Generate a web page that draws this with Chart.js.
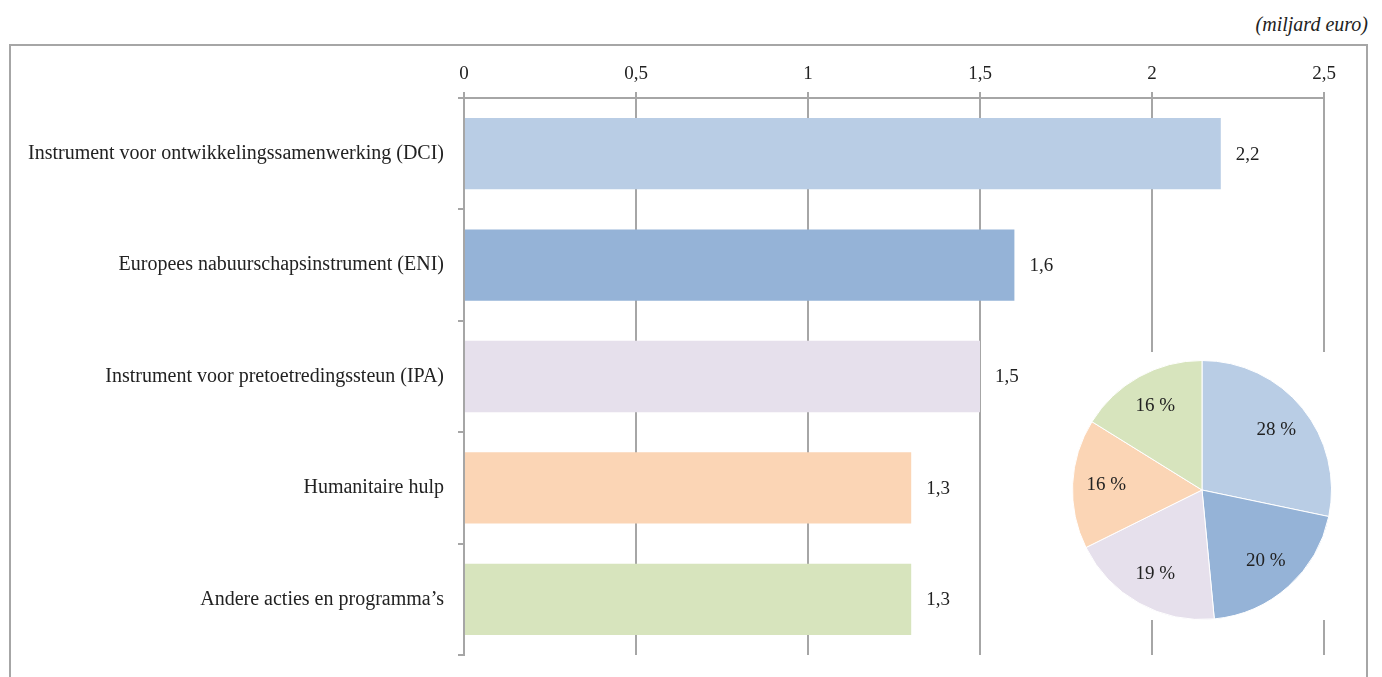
<!DOCTYPE html>
<html>
<head>
    <title>Externe financieringsinstrumenten</title>
    <script src="https://cdn.jsdelivr.net/npm/chart.js"></script>
    <style>
        body {
            margin: 0;
            background: #fff;
            font-family: "Liberation Serif", serif;
        }
        #wrap {
            position: relative;
            width: 1382px;
            height: 677px;
            overflow: hidden;
        }
        #unit {
            position: absolute;
            right: 14px;
            top: 13px;
            font-style: italic;
            font-size: 20px;
            color: #222;
        }
        #frame {
            position: absolute;
            left: 9px;
            top: 44px;
            width: 1355px;
            height: 700px;
            border: 2px solid #a6a6a6;
        }
        #barBox {
            position: absolute;
            left: 0;
            top: 0;
            width: 1382px;
            height: 677px;
        }
        #pieBox {
            position: absolute;
            left: 1066px;
            top: 352px;
            width: 274px;
            height: 268px;
            background: #fff;
        }
        #pieBox canvas {
            position: absolute;
            left: 6px;
            top: 8px;
        }
    </style>
</head>
<body>
    <div id="wrap">
        <div id="unit">(miljard euro)</div>
        <div id="frame"></div>
        <div id="barBox"><canvas id="barChart" width="1382" height="677"></canvas></div>
        <div id="pieBox"><canvas id="pieChart" width="260" height="260"></canvas></div>
    </div>

    <script>
        const categories = [
            'Instrument voor ontwikkelingssamenwerking (DCI)',
            'Europees nabuurschapsinstrument (ENI)',
            'Instrument voor pretoetredingssteun (IPA)',
            'Humanitaire hulp',
            'Andere acties en programma\u2019s'
        ];
        const amounts = [2.2, 1.6, 1.5, 1.3, 1.3];
        const shares = [28, 20, 19, 16, 16];
        const colors = ['#b9cde5', '#95b3d7', '#e6e0ec', '#fbd5b5', '#d7e4bd'];
        const xTicks = [0, 0.5, 1, 1.5, 2, 2.5];

        const gridGray = '#a6a6a6';
        const textColor = '#222';
        const serif = '"Liberation Serif", serif';

        const comma = v => String(v).replace('.', ',');

        // value next to the end of each bar
        const barValues = {
            id: 'barValues',
            afterDatasetsDraw(chart) {
                const ctx = chart.ctx;
                const meta = chart.getDatasetMeta(0);
                ctx.save();
                ctx.font = '19px ' + serif;
                ctx.fillStyle = textColor;
                ctx.textAlign = 'left';
                ctx.textBaseline = 'middle';
                meta.data.forEach((bar, i) => {
                    ctx.fillText(comma(amounts[i]), bar.x + 15, bar.y + 1);
                });
                ctx.restore();
            }
        };

        // percentages inside the slices
        const sliceLabels = {
            id: 'sliceLabels',
            afterDatasetsDraw(chart) {
                const ctx = chart.ctx;
                const meta = chart.getDatasetMeta(0);
                ctx.save();
                ctx.font = '19px ' + serif;
                ctx.fillStyle = textColor;
                ctx.textAlign = 'center';
                ctx.textBaseline = 'middle';
                meta.data.forEach((arc, i) => {
                    const mid = (arc.startAngle + arc.endAngle) / 2;
                    const r = arc.outerRadius * 0.74;
                    ctx.fillText(shares[i] + ' %', arc.x + Math.cos(mid) * r, arc.y + Math.sin(mid) * r);
                });
                ctx.restore();
            }
        };

        new Chart(document.getElementById('barChart'), {
            type: 'bar',
            data: {
                labels: categories,
                datasets: [{
                    data: amounts,
                    backgroundColor: colors,
                    borderWidth: 0,
                    categoryPercentage: 0.64,
                    barPercentage: 1
                }]
            },
            options: {
                indexAxis: 'y',
                responsive: false,
                animation: false,
                layout: { padding: { left: 0, right: 58, top: 0, bottom: 22 } },
                plugins: {
                    legend: { display: false },
                    tooltip: { enabled: false }
                },
                scales: {
                    x: {
                        position: 'top',
                        min: 0,
                        max: 2.5,
                        afterBuildTicks: s => { s.ticks = xTicks.map(v => ({ value: v })); },
                        afterFit: s => { s.height = 98; },
                        ticks: {
                            color: textColor,
                            font: { family: serif, size: 19 },
                            padding: 7,
                            callback: v => comma(v)
                        },
                        grid: { color: gridGray, lineWidth: 2, tickLength: 6 },
                        border: { color: gridGray, width: 2 }
                    },
                    y: {
                        afterFit: s => {
                            s.width = 464;
                            s.paddingTop = 0;
                            s.paddingBottom = 0;
                        },
                        ticks: {
                            color: textColor,
                            font: { family: serif, size: 20 },
                            padding: 14
                        },
                        grid: { offset: true, drawOnChartArea: false, color: gridGray, lineWidth: 2, tickLength: 6 },
                        border: { color: gridGray, width: 2 }
                    }
                }
            },
            plugins: [barValues]
        });

        new Chart(document.getElementById('pieChart'), {
            type: 'pie',
            data: {
                labels: categories,
                datasets: [{
                    data: shares,
                    backgroundColor: colors,
                    borderColor: '#fff',
                    borderWidth: 1
                }]
            },
            options: {
                responsive: false,
                animation: false,
                plugins: {
                    legend: { display: false },
                    tooltip: { enabled: false }
                }
            },
            plugins: [sliceLabels]
        });
    </script>
</body>
</html>
